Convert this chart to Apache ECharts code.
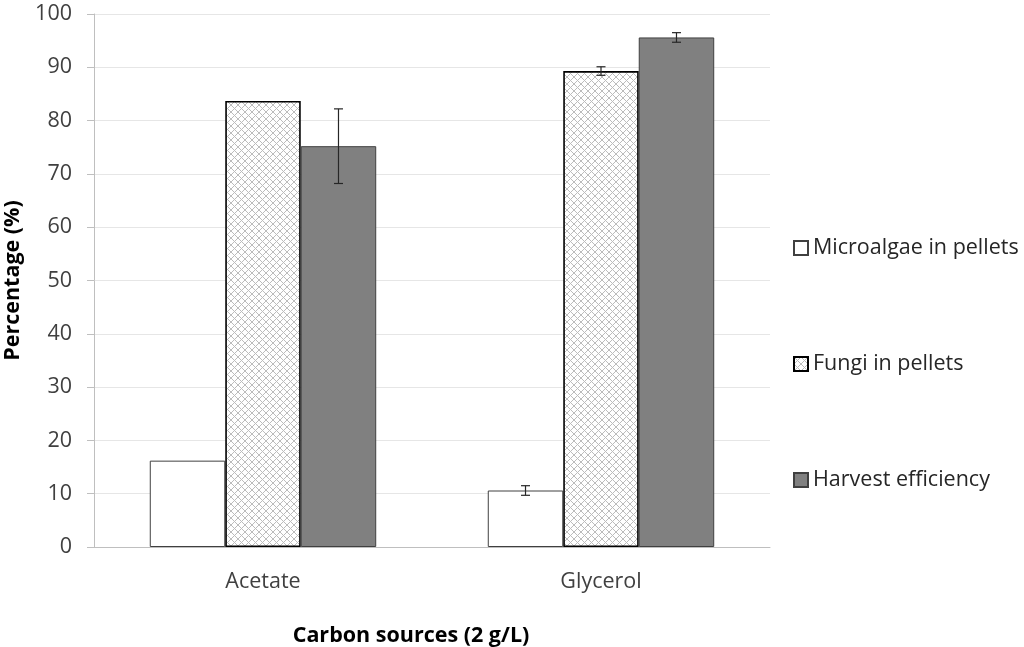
<!DOCTYPE html>
<html><head><meta charset="utf-8">
<script src="https://cdn.jsdelivr.net/npm/echarts@6/dist/echarts.min.js"></script>
<style>html,body{margin:0;padding:0;background:#fff}#c{width:1024px;height:647px}</style>
</head><body><div id="c"></div>
<script>
const categories = ['Acetate', 'Glycerol'];
const seriesNames = ['Microalgae in pellets', 'Fungi in pellets', 'Harvest efficiency'];
const microalgae = [16.2, 10.6];
const microalgaeErr = [0, 0.9];
const fungi = [83.7, 89.3];
const fungiErr = [0, 0.8];
const harvest = [75.2, 95.6];
const harvestErr = [7.0, 0.9];

const FONT = '"Open Sans", "Noto Sans", sans-serif';
const CAT_GAP = 0.33;

const P = 7;
const pc = document.createElement('canvas');
pc.width = P; pc.height = P;
const g = pc.getContext('2d');
g.fillStyle = '#ffffff'; g.fillRect(0, 0, P, P);
g.strokeStyle = '#bcbcbc'; g.lineWidth = 1;
g.beginPath();
g.moveTo(0, 0); g.lineTo(P, P);
g.moveTo(P, 0); g.lineTo(0, P);
g.stroke();
const hatch = { image: pc, repeat: 'repeat' };

const values = [microalgae, fungi, harvest];
const errs = [microalgaeErr, fungiErr, harvestErr];
const errData = [];
for (let s = 0; s < 3; s++) {
  for (let i = 0; i < categories.length; i++) {
    if (errs[s][i] > 0) errData.push([i, values[s][i], errs[s][i], s]);
  }
}

const chart = echarts.init(document.getElementById('c'), null, { renderer: 'canvas' });
chart.setOption({
  animation: false,
  textStyle: { fontFamily: FONT },
  grid: { left: 94, top: 14, width: 676, height: 533, containLabel: false, outerBoundsMode: 'none' },
  legend: {
    orient: 'vertical', left: 788, top: 231,
    data: seriesNames, icon: 'rect', itemWidth: 14, itemHeight: 14, itemGap: 92,
    textStyle: { fontFamily: FONT, fontSize: 21.5, color: '#262626', lineHeight: 24 }
  },
  xAxis: {
    type: 'category', data: categories,
    name: 'Carbon sources (2 g/L)', nameLocation: 'middle', nameGap: 78,
    nameTextStyle: { fontFamily: FONT, fontSize: 21.5, fontWeight: 'bold', color: '#000', padding: [0, 42, 0, 0] },
    axisLine: { lineStyle: { color: '#bfbfbf', width: 1 } },
    axisTick: { show: false },
    axisLabel: { fontSize: 21.5, color: '#404040', margin: 24 }
  },
  yAxis: {
    type: 'value', min: 0, max: 100, interval: 10,
    name: 'Percentage (%)', nameLocation: 'middle', nameGap: 67,
    nameTextStyle: { fontFamily: FONT, fontSize: 21.5, fontWeight: 'bold', color: '#000' },
    axisLine: { show: true, lineStyle: { color: '#bfbfbf', width: 1 } },
    axisTick: { show: true, length: 7, lineStyle: { color: '#bfbfbf' } },
    axisLabel: { fontSize: 21.5, color: '#404040', margin: 22 },
    splitLine: { lineStyle: { color: '#e6e6e6', width: 1 } }
  },
  series: [
    { name: seriesNames[0], type: 'bar', data: microalgae, barGap: '0%', barCategoryGap: (CAT_GAP * 100) + '%',
      itemStyle: { color: '#ffffff', borderColor: '#404040', borderWidth: 1 } },
    { name: seriesNames[1], type: 'bar', data: fungi, barGap: '0%', barCategoryGap: (CAT_GAP * 100) + '%',
      itemStyle: { color: hatch, borderColor: '#000000', borderWidth: 1.6 } },
    { name: seriesNames[2], type: 'bar', data: harvest, barGap: '0%', barCategoryGap: (CAT_GAP * 100) + '%',
      itemStyle: { color: '#808080', borderColor: '#404040', borderWidth: 1 } },
    { type: 'custom', data: errData, z: 10, silent: true,
      renderItem: function (params, api) {
        const ci = api.value(0), v = api.value(1), e = api.value(2), s = api.value(3);
        const band = api.size([1, 0])[0];
        const group = band * (1 - CAT_GAP);
        const bw = group / 3;
        const cx = api.coord([ci, v])[0] - group / 2 + bw * (s + 0.5);
        const yTop = api.coord([ci, v + e])[1];
        const yBot = api.coord([ci, v - e])[1];
        const cap = 4.5;
        const st = { stroke: '#262626', lineWidth: 1.2 };
        return { type: 'group', children: [
          { type: 'line', shape: { x1: cx, y1: yTop, x2: cx, y2: yBot }, style: st },
          { type: 'line', shape: { x1: cx - cap, y1: yTop, x2: cx + cap, y2: yTop }, style: st },
          { type: 'line', shape: { x1: cx - cap, y1: yBot, x2: cx + cap, y2: yBot }, style: st }
        ] };
      }
    }
  ]
});
</script></body></html>
